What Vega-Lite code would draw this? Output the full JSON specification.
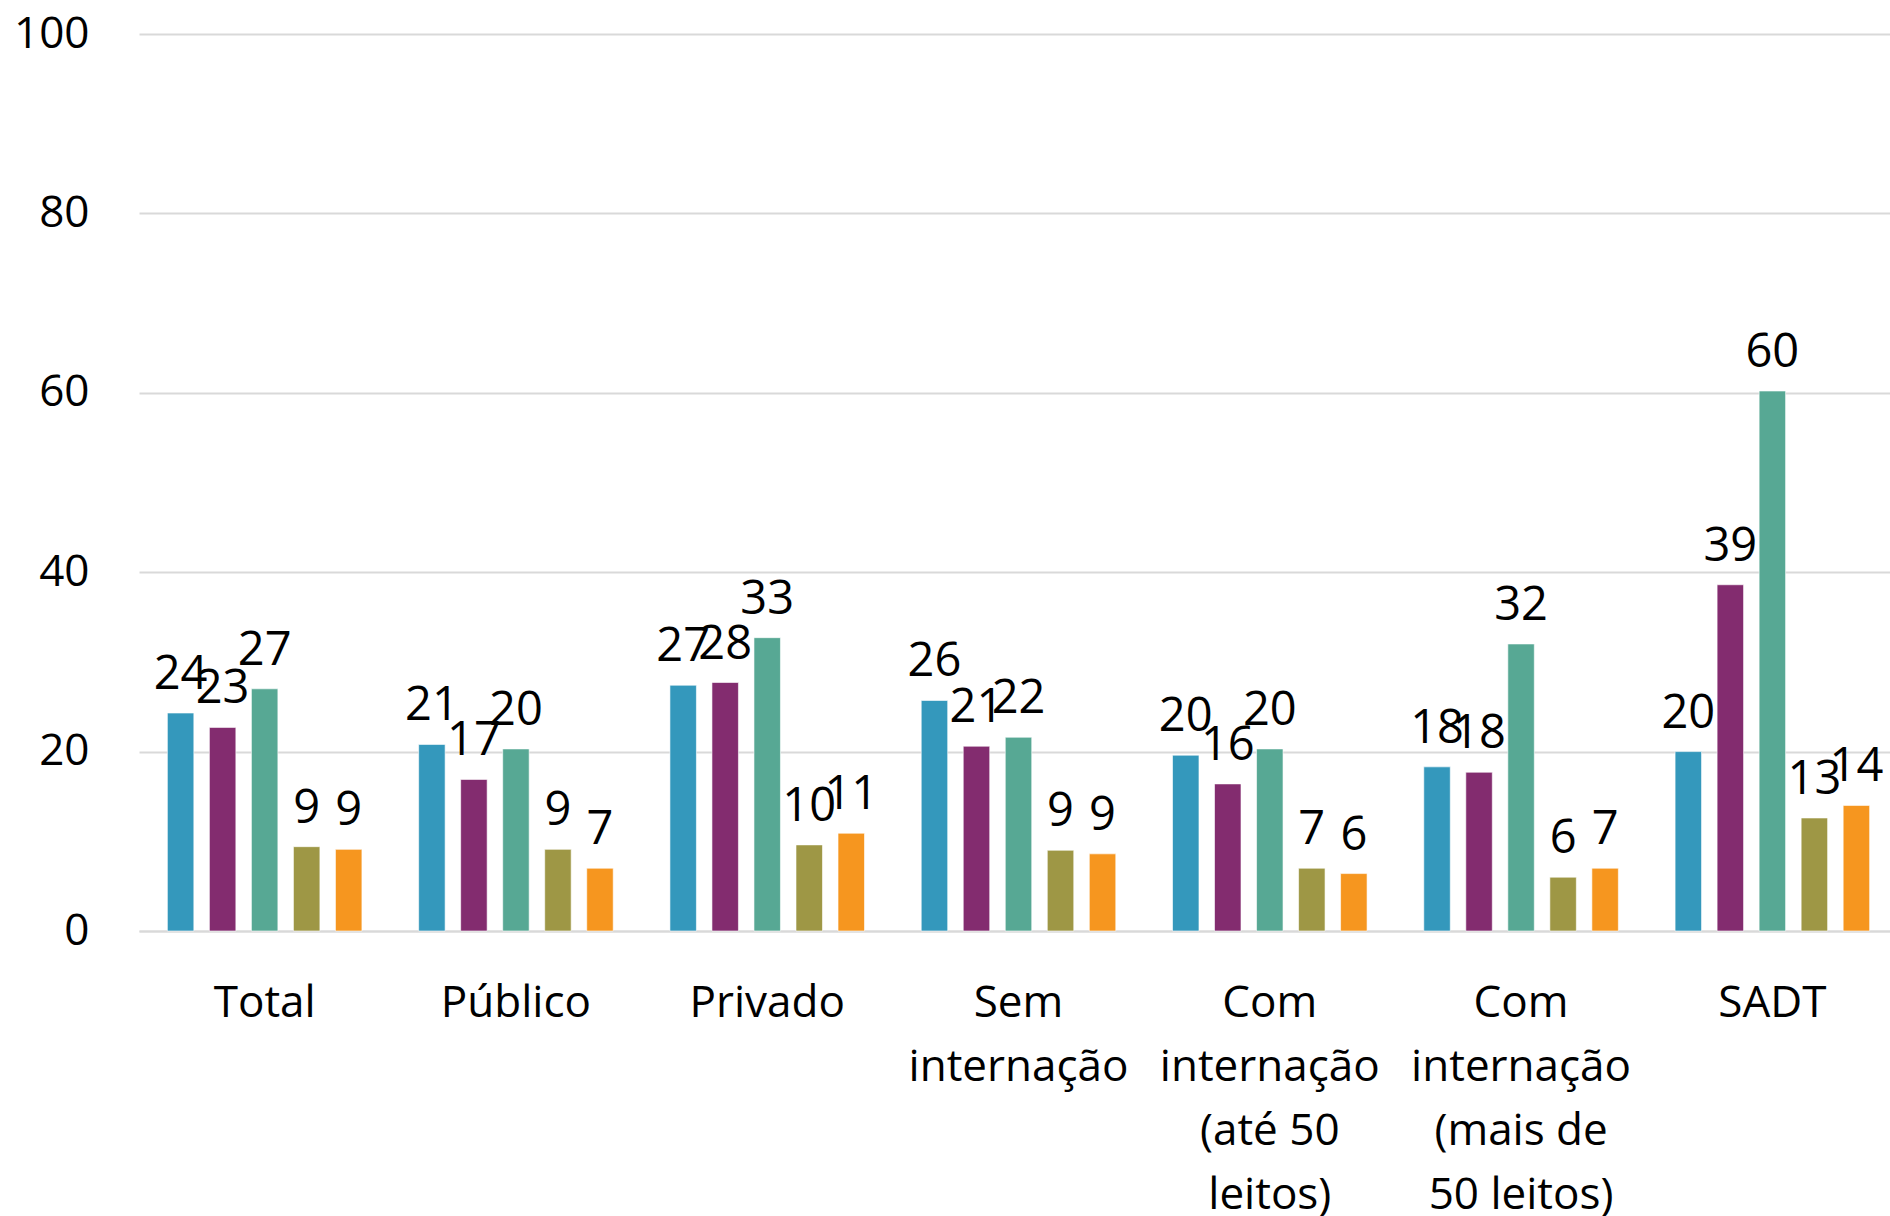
{
  "$schema": "https://vega.github.io/schema/vega-lite/v6.json",
  "width": 1751,
  "height": 897,
  "autosize": {"type": "none"},
  "padding": {"left": 139, "top": 34, "right": 0, "bottom": 285},
  "background": "white",
  "config": {"view": {"stroke": null}, "font": "Open Sans"},
  "data": {
    "values": [
      {"cat": "Total", "s": "Série 1", "v": 24.3},
      {"cat": "Total", "s": "Série 2", "v": 22.7},
      {"cat": "Total", "s": "Série 3", "v": 27.0},
      {"cat": "Total", "s": "Série 4", "v": 9.4},
      {"cat": "Total", "s": "Série 5", "v": 9.1},
      {"cat": "Público", "s": "Série 1", "v": 20.8},
      {"cat": "Público", "s": "Série 2", "v": 16.9},
      {"cat": "Público", "s": "Série 3", "v": 20.3},
      {"cat": "Público", "s": "Série 4", "v": 9.1},
      {"cat": "Público", "s": "Série 5", "v": 7.0},
      {"cat": "Privado", "s": "Série 1", "v": 27.4},
      {"cat": "Privado", "s": "Série 2", "v": 27.7},
      {"cat": "Privado", "s": "Série 3", "v": 32.7},
      {"cat": "Privado", "s": "Série 4", "v": 9.6},
      {"cat": "Privado", "s": "Série 5", "v": 10.9},
      {"cat": "Sem internação", "s": "Série 1", "v": 25.7},
      {"cat": "Sem internação", "s": "Série 2", "v": 20.6},
      {"cat": "Sem internação", "s": "Série 3", "v": 21.6},
      {"cat": "Sem internação", "s": "Série 4", "v": 9.0},
      {"cat": "Sem internação", "s": "Série 5", "v": 8.6},
      {"cat": "Com internação (até 50 leitos)", "s": "Série 1", "v": 19.6},
      {"cat": "Com internação (até 50 leitos)", "s": "Série 2", "v": 16.4},
      {"cat": "Com internação (até 50 leitos)", "s": "Série 3", "v": 20.3},
      {"cat": "Com internação (até 50 leitos)", "s": "Série 4", "v": 7.0},
      {"cat": "Com internação (até 50 leitos)", "s": "Série 5", "v": 6.4},
      {"cat": "Com internação (mais de 50 leitos)", "s": "Série 1", "v": 18.3},
      {"cat": "Com internação (mais de 50 leitos)", "s": "Série 2", "v": 17.7},
      {"cat": "Com internação (mais de 50 leitos)", "s": "Série 3", "v": 32.0},
      {"cat": "Com internação (mais de 50 leitos)", "s": "Série 4", "v": 6.0},
      {"cat": "Com internação (mais de 50 leitos)", "s": "Série 5", "v": 7.0},
      {"cat": "SADT", "s": "Série 1", "v": 20.0},
      {"cat": "SADT", "s": "Série 2", "v": 38.6},
      {"cat": "SADT", "s": "Série 3", "v": 60.2},
      {"cat": "SADT", "s": "Série 4", "v": 12.6},
      {"cat": "SADT", "s": "Série 5", "v": 14.0}
    ]
  },
  "encoding": {
    "x": {
      "field": "cat",
      "type": "nominal",
      "sort": null,
      "scale": {"range": [0, 1759], "paddingInner": 0, "paddingOuter": 0},
      "axis": {
        "title": null,
        "labelAngle": 0,
        "labelFontSize": 44,
        "labelColor": "#000000",
        "labelLineHeight": 64,
        "labelPadding": 50,
        "labelBaseline": "top",
        "labelLimit": 0,
        "ticks": false,
        "domain": true,
        "domainColor": "#d9d9d9",
        "domainWidth": 2,
        "grid": false,
        "labelExpr": "datum.value == 'Sem internação' ? ['Sem', 'internação'] : datum.value == 'Com internação (até 50 leitos)' ? ['Com', 'internação', '(até 50', 'leitos)'] : datum.value == 'Com internação (mais de 50 leitos)' ? ['Com', 'internação', '(mais de', '50 leitos)'] : datum.value"
      }
    },
    "xOffset": {
      "field": "s",
      "type": "nominal",
      "sort": null,
      "scale": {"paddingInner": 0.37, "paddingOuter": 0.675}
    },
    "y": {
      "field": "v",
      "type": "quantitative",
      "scale": {"domain": [0, 100], "nice": false},
      "axis": {
        "title": null,
        "values": [0, 20, 40, 60, 80, 100],
        "labelFontSize": 44,
        "labelColor": "#000000",
        "labelPadding": 50,
        "ticks": false,
        "domain": false,
        "grid": true,
        "gridColor": "#d9d9d9",
        "gridWidth": 2
      }
    }
  },
  "layer": [
    {
      "mark": {"type": "bar", "stroke": "#ffffff", "strokeWidth": 1, "strokeOpacity": 0.6},
      "encoding": {
        "color": {
          "field": "s",
          "type": "nominal",
          "sort": null,
          "legend": null,
          "scale": {"range": ["#3498BC", "#832C6F", "#57A894", "#9E9745", "#F6961F"]}
        }
      }
    },
    {
      "mark": {"type": "text", "baseline": "alphabetic", "dy": -24, "fontSize": 47, "color": "#000000"},
      "encoding": {
        "text": {"field": "v", "type": "quantitative", "format": ".0f"}
      }
    }
  ]
}
